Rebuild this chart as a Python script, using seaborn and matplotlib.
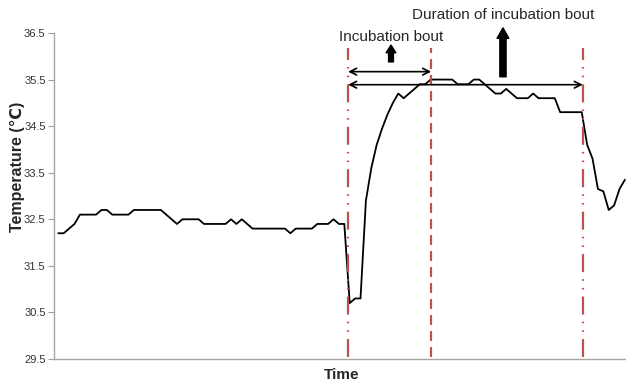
import numpy as np
import pandas as pd
import matplotlib
matplotlib.use("Agg")
import matplotlib.pyplot as plt
import seaborn as sns

# ---- data ----
temperature = [
    32.2, 32.2, 32.3, 32.4, 32.6, 32.6, 32.6, 32.6, 32.7, 32.7,
    32.6, 32.6, 32.6, 32.6, 32.7, 32.7, 32.7, 32.7, 32.7, 32.7,
    32.6, 32.5, 32.4, 32.5, 32.5, 32.5, 32.5, 32.4, 32.4, 32.4,
    32.4, 32.4, 32.5, 32.4, 32.5, 32.4, 32.3, 32.3, 32.3, 32.3,
    32.3, 32.3, 32.3, 32.2, 32.3, 32.3, 32.3, 32.3, 32.4, 32.4,
    32.4, 32.5, 32.4, 32.4, 30.7, 30.8, 30.8, 32.9, 33.6, 34.1,
    34.45, 34.75, 35.0, 35.2, 35.1, 35.2, 35.3, 35.4, 35.4, 35.5,
    35.5, 35.5, 35.5, 35.5, 35.4, 35.4, 35.4, 35.5, 35.5, 35.4,
    35.3, 35.2, 35.2, 35.3, 35.2, 35.1, 35.1, 35.1, 35.2, 35.1,
    35.1, 35.1, 35.1, 34.8, 34.8, 34.8, 34.8, 34.8, 34.1, 33.8,
    33.15, 33.1, 32.7, 32.8, 33.15, 33.35,
]
time_idx = list(range(len(temperature)))
bout_start, bout_end, duration_end = 53.7, 69.1, 97.2
y_ticks = [29.5, 30.5, 31.5, 32.5, 33.5, 34.5, 35.5, 36.5]
label_bout = "Incubation bout"
label_duration = "Duration of incubation bout"

df = pd.DataFrame({"Time": time_idx, "Temperature": temperature})

sns.set_theme(style="white")
plt.rcParams["font.family"] = ["Liberation Sans", "DejaVu Sans"]

fig = plt.figure(figsize=(6.26, 3.84), dpi=100)
ax = fig.add_axes([54 / 626, (384 - 359) / 384, 1 - 54 / 626, (359 - 33) / 384])

sns.lineplot(data=df, x="Time", y="Temperature", ax=ax, color="black", lw=1.3)

ax.set_xlim(-0.8, 105.2)
ax.set_ylim(29.5, 36.5)
ax.set_yticks(y_ticks)
ax.set_yticklabels([f"{v:.1f}" for v in y_ticks], fontsize=8, color="#333333")
ax.set_xticks([])
ax.tick_params(axis="y", length=4, width=0.8, color="#a0a0a0", direction="out", left=True, pad=2)

for side in ["top", "right"]:
    ax.spines[side].set_visible(False)
for side in ["left", "bottom"]:
    ax.spines[side].set_color("#a6a6a6")
    ax.spines[side].set_linewidth(1.0)

ax.set_xlabel("Time", fontsize=11, fontweight="bold")
ax.set_ylabel("Temperature (℃)", fontsize=11.5, fontweight="bold")
ax.xaxis.set_label_coords((342 - 54) / (626 - 54), -0.028)
ax.yaxis.set_label_coords(-0.05, 0.59)

red = "#C0504D"
dashdotdot = (0, (8.1, 3.2, 0.7, 3.2, 0.7, 3.2))
dashed = (0, (4.5, 2.7))
for xv, ls in [(bout_start, dashdotdot), (bout_end, dashed), (duration_end, dashdotdot)]:
    ax.plot([xv, xv], [29.55, 36.18], color=red, lw=1.6, linestyle=ls, zorder=3)

# double-headed arrows
ax.annotate("", xy=(bout_start, 35.67), xytext=(bout_end, 35.67),
            arrowprops=dict(arrowstyle="<->", color="black", lw=1.2, mutation_scale=12,
                            shrinkA=0, shrinkB=0))
ax.annotate("", xy=(bout_start, 35.39), xytext=(duration_end, 35.39),
            arrowprops=dict(arrowstyle="<->", color="black", lw=1.2, mutation_scale=12,
                            shrinkA=0, shrinkB=0))

# thick up arrows
ax.annotate("", xy=(61.65, 36.24), xytext=(61.65, 35.88), annotation_clip=False,
            arrowprops=dict(arrowstyle="simple,head_width=0.7,head_length=0.55,tail_width=0.35",
                            color="black", mutation_scale=10, shrinkA=0, shrinkB=0))
ax.annotate("", xy=(82.4, 36.61), xytext=(82.4, 35.56), annotation_clip=False,
            arrowprops=dict(arrowstyle="simple,head_width=0.85,head_length=0.75,tail_width=0.45",
                            color="black", mutation_scale=10, shrinkA=0, shrinkB=0))

ax.text(61.65, 36.414, label_bout, ha="center", va="center", fontsize=11, clip_on=False)
ax.text(82.4, 36.886, label_duration, ha="center", va="center", fontsize=11, clip_on=False)

fig.savefig("out.png", dpi=100)
